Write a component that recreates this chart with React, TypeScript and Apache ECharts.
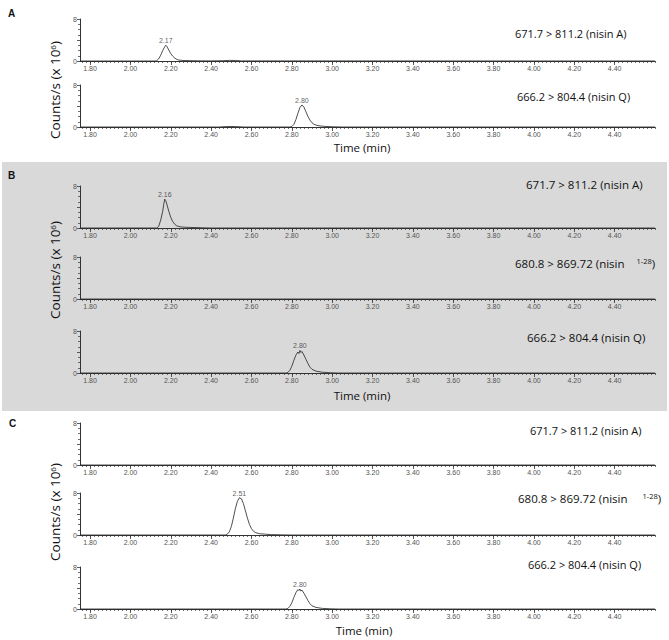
import React, { useEffect, useRef } from "react";
import * as echarts from "echarts";

// ---------- data ----------
const X_MIN = 1.75;
const X_MAX = 4.6;
const Y_MAX = 8;
const xTickLabels = ["1.80", "2.00", "2.20", "2.40", "2.60", "2.80", "3.00", "3.20", "3.40", "3.60", "3.80", "4.00", "4.20", "4.40"];
const yTickLabels = ["0", "8"];

type P = [number, number];

const traceA_nisinA: P[] = [
  [1.75, 0], [2.12, 0], [2.13, 0.05], [2.14, 0.4], [2.15, 1.1], [2.16, 2.0], [2.17, 2.7], [2.175, 3.0],
  [2.18, 2.8], [2.19, 2.1], [2.2, 1.4], [2.21, 0.9], [2.22, 0.55], [2.23, 0.3], [2.24, 0.18], [2.26, 0.1],
  [2.3, 0.06], [2.35, 0.03], [2.4, 0.02], [2.46, 0.06], [2.49, 0.12], [2.52, 0.1], [2.55, 0.02], [4.6, 0],
];
const traceA_nisinQ: P[] = [
  [1.75, 0], [2.44, 0], [2.47, 0.08], [2.52, 0.1], [2.56, 0], [2.79, 0], [2.8, 0.1], [2.81, 0.5], [2.82, 1.4],
  [2.83, 2.6], [2.84, 3.7], [2.85, 4.2], [2.86, 3.8], [2.87, 2.9], [2.88, 2.0], [2.89, 1.3], [2.9, 0.8],
  [2.91, 0.5], [2.93, 0.25], [2.96, 0.12], [3.0, 0.05], [3.05, 0], [4.6, 0],
];
const traceB_nisinA: P[] = [
  [1.75, 0], [2.13, 0], [2.14, 0.3], [2.15, 1.5], [2.16, 3.2], [2.165, 4.5], [2.17, 5.5], [2.175, 5.2],
  [2.18, 4.6], [2.19, 3.2], [2.2, 2.0], [2.21, 1.2], [2.22, 0.7], [2.23, 0.4], [2.25, 0.2], [2.28, 0.12],
  [2.33, 0.08], [2.36, 0.03], [2.4, 0], [4.6, 0],
];
const traceB_nisin128: P[] = [[1.75, 0], [4.6, 0]];
const traceB_nisinQ: P[] = [
  [1.75, 0], [2.77, 0], [2.78, 0.1], [2.79, 0.5], [2.8, 1.3], [2.81, 2.4], [2.82, 3.4], [2.83, 4.0],
  [2.835, 3.7], [2.84, 4.3], [2.845, 3.9], [2.85, 4.1], [2.86, 3.4], [2.87, 2.6], [2.88, 1.8], [2.89, 1.1],
  [2.9, 0.7], [2.92, 0.35], [2.95, 0.15], [2.99, 0.05], [3.03, 0], [4.6, 0],
];
const traceC_nisinA: P[] = [[1.75, 0], [4.6, 0]];
const traceC_nisin128: P[] = [
  [1.75, 0], [2.47, 0], [2.48, 0.15], [2.49, 0.6], [2.5, 1.6], [2.51, 3.2], [2.52, 5.0], [2.53, 6.4],
  [2.54, 7.1], [2.55, 6.9], [2.56, 6.0], [2.57, 4.6], [2.58, 3.2], [2.59, 2.0], [2.6, 1.2], [2.61, 0.7],
  [2.62, 0.45], [2.64, 0.25], [2.67, 0.15], [2.7, 0.08], [2.75, 0.03], [2.8, 0], [4.6, 0],
];
const traceC_nisinQ: P[] = [
  [1.75, 0], [2.77, 0], [2.78, 0.1], [2.79, 0.5], [2.8, 1.2], [2.81, 2.2], [2.82, 3.1], [2.83, 3.7],
  [2.835, 3.5], [2.84, 3.8], [2.845, 3.4], [2.85, 3.6], [2.86, 3.0], [2.87, 2.3], [2.88, 1.6], [2.89, 1.0],
  [2.9, 0.6], [2.92, 0.3], [2.95, 0.12], [2.99, 0.04], [3.03, 0], [4.6, 0],
];

const peakLabels = ["2.17", "2.80", "2.16", "", "2.80", "", "2.51", "2.80"];
const transitions = [
  "671.7 > 811.2 (nisin A)",
  "666.2 > 804.4 (nisin Q)",
  "671.7 > 811.2 (nisin A)",
  "680.8 > 869.72 (nisin    {s|1-28})",
  "666.2 > 804.4 (nisin Q)",
  "671.7 > 811.2 (nisin A)",
  "680.8 > 869.72 (nisin     {s|1-28})",
  "666.2 > 804.4 (nisin Q)",
];
const panelLetters = ["A", "B", "C"];
const yAxisTitle = "Counts/s (x 10{s|6})";
const xAxisTitle = "Time (min)";

// ---------- layout ----------
const traces = [traceA_nisinA, traceA_nisinQ, traceB_nisinA, traceB_nisin128, traceB_nisinQ, traceC_nisinA, traceC_nisin128, traceC_nisinQ];
const gridTops = [19, 85, 186, 257, 331, 423, 493, 567];
const GRID_H = 42;
const GRID_LEFT = 80;
const GRID_RIGHT = 14;
const titlePos = [
  [515, 33, 11], [517, 96, 11],
  [526, 184, 11.5], [515, 263, 11.5], [527, 337, 11.5],
  [530, 430, 11], [518, 498, 11.5], [528, 564, 11],
];

const FONT = "'Open Sans', 'Noto Sans', sans-serif";
const TICKFONT = "'Liberation Sans Narrow', 'Liberation Sans', sans-serif";
const AXIS_COLOR = "#333";

export default function App() {
  const ref = useRef<HTMLDivElement>(null);
  useEffect(() => {
    if (!ref.current) return;
    const chart = echarts.init(ref.current, undefined, { renderer: "svg" });
    const majorVals = xTickLabels.map(Number);
    const minorVals: number[] = [];
    for (let i = 0; i <= 142; i++) {
      const v = Math.round((1.76 + i * 0.02) * 100) / 100;
      if (v <= X_MAX + 1e-9) minorVals.push(v);
    }

    const grid: any[] = [];
    const xAxis: any[] = [];
    const yAxis: any[] = [];
    const series: any[] = [];
    traces.forEach((tr, i) => {
      grid.push({ left: GRID_LEFT, right: GRID_RIGHT, top: gridTops[i], height: GRID_H, containLabel: false });
      xAxis.push({
        gridIndex: i, type: "value", min: X_MIN, max: X_MAX, position: "bottom",
        axisLine: { show: true, onZero: false, lineStyle: { color: AXIS_COLOR, width: 1 } },
        axisTick: { show: true, customValues: majorVals, length: 4, lineStyle: { color: AXIS_COLOR, width: 0.8 } },
        axisLabel: {
          show: true, customValues: majorVals, formatter: (v: number) => v.toFixed(2),
          fontSize: 7, fontFamily: TICKFONT, color: "#555", margin: 4,
        },
        splitLine: { show: false },
      });
      xAxis.push({
        gridIndex: i, type: "value", min: X_MIN, max: X_MAX, position: "bottom",
        axisLine: { show: false, onZero: false },
        axisTick: { show: true, customValues: minorVals, length: 2, lineStyle: { color: AXIS_COLOR, width: 0.7 } },
        axisLabel: { show: false },
        splitLine: { show: false },
      });
      yAxis.push({
        gridIndex: i, type: "value", min: 0, max: Y_MAX, interval: 4,
        axisLine: { show: true, lineStyle: { color: AXIS_COLOR, width: 1 } },
        axisTick: { show: true, length: 3, lineStyle: { color: AXIS_COLOR, width: 0.8 } },
        minorTick: { show: true, splitNumber: 4, length: 2, lineStyle: { color: AXIS_COLOR, width: 0.7 } },
        axisLabel: {
          formatter: (v: number) => (yTickLabels.includes(String(v)) ? String(v) : ""),
          fontSize: 7, fontFamily: TICKFONT, color: "#555", margin: 3,
        },
        splitLine: { show: false },
      });
      series.push({
        type: "line", xAxisIndex: 2 * i, yAxisIndex: i, data: tr, showSymbol: false, symbol: "none",
        lineStyle: { color: "#222", width: 0.8 }, silent: true, z: 3,
      });
      if (peakLabels[i]) {
        let apex = tr[0];
        tr.forEach((p) => { if (p[1] > apex[1]) apex = p; });
        series.push({
          type: "scatter", xAxisIndex: 2 * i, yAxisIndex: i, data: [apex], symbolSize: 0.1,
          itemStyle: { color: "transparent" }, silent: true,
          label: {
            show: true, position: "top", distance: 1, formatter: peakLabels[i],
            fontSize: 7, fontFamily: TICKFONT, color: "#333",
          },
        });
      }
    });

    const graphic: any[] = [
      { type: "rect", shape: { x: 2, y: 162, width: 665, height: 249 }, style: { fill: "#d9d9d9" }, z: -100, silent: true },
    ];
    const letterPos = [[8, 13], [8, 175], [9, 423]];
    panelLetters.forEach((l, k) => {
      graphic.push({
        type: "text", x: letterPos[k][0], y: letterPos[k][1],
        style: { text: l, fontSize: 10, fontWeight: "bold", fontFamily: "'Liberation Sans', sans-serif", fill: "#111", verticalAlign: "middle" },
      });
    });
    const yTitlePos = [[55, 90], [55, 270], [55, 512]];
    yTitlePos.forEach((p) => {
      graphic.push({
        type: "text", x: p[0], y: p[1], rotation: Math.PI / 2,
        style: {
          text: yAxisTitle,
          rich: { s: { fontSize: 8, verticalAlign: "top", fontFamily: FONT, fill: "#111" } },
          fontSize: 13.5, fontFamily: FONT, fill: "#111", align: "center", verticalAlign: "middle",
        },
      });
    });
    const xTitlePos = [[362, 147], [362, 395], [364, 630]];
    xTitlePos.forEach((p) => {
      graphic.push({
        type: "text", x: p[0], y: p[1],
        style: { text: xAxisTitle, fontSize: 11.5, fontFamily: FONT, fill: "#111", align: "center", verticalAlign: "middle" },
      });
    });
    transitions.forEach((t, i) => {
      const [x, y, fs] = titlePos[i];
      graphic.push({
        type: "text", x, y,
        style: {
          text: t, fontSize: fs, fontFamily: FONT, fill: "#111", align: "left", verticalAlign: "middle",
          rich: { s: { fontSize: 7.5, verticalAlign: "top", fontFamily: FONT, fill: "#111" } },
        },
      });
    });

    chart.setOption({
      animation: false,
      backgroundColor: "#ffffff",
      grid, xAxis, yAxis, series, graphic,
    });
    return () => chart.dispose();
  }, []);

  return <div ref={ref} style={{ position: "fixed", left: 0, top: 0, width: 669, height: 640 }} />;
}
